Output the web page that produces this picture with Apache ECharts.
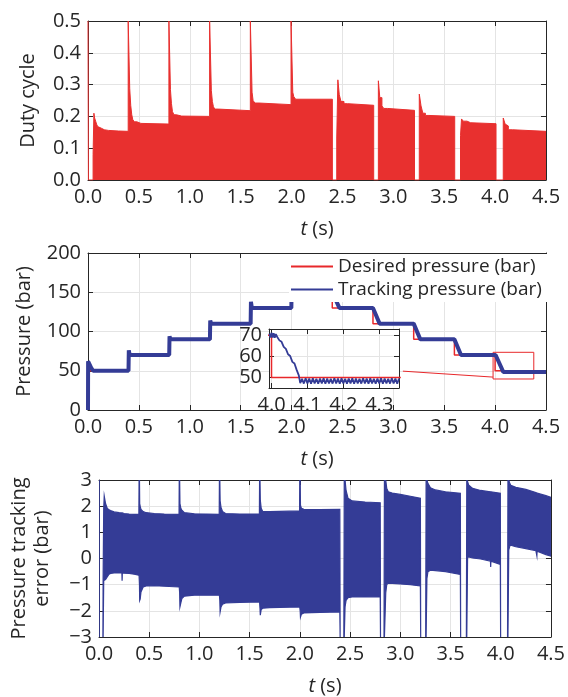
<!DOCTYPE html>
<html><head><meta charset="utf-8">
<script src="https://cdn.jsdelivr.net/npm/echarts@6/dist/echarts.min.js"></script>
<style>html,body{margin:0;padding:0;background:#fff}#c{width:568px;height:697px}</style>
</head><body><div id="c"></div><script>
// ---------- Duty cycle (value held from t[i] to t[i+1]) ----------
const dutyT = [0, 0.004, 0.050, 0.058, 0.065, 0.075, 0.085, 0.095, 0.11, 0.13, 0.16, 0.20, 0.30,
  0.395, 0.410, 0.420, 0.430, 0.440, 0.455, 0.48, 0.52,
  0.795, 0.810, 0.820, 0.830, 0.845, 0.87, 0.92,
  1.195, 1.212, 1.222, 1.232, 1.245, 1.28,
  1.595, 1.612, 1.622, 1.64, 1.68,
  1.995, 2.012, 2.022, 2.04,
  2.401, 2.444, 2.455, 2.469, 2.486, 2.515, 2.55,
  2.807, 2.853, 2.867, 2.888, 2.906, 2.942,
  3.208, 3.255, 3.272, 3.29, 3.315, 3.35,
  3.603, 3.66, 3.67, 3.688, 3.724, 3.76,
  4.009, 4.08, 4.098, 4.115, 4.13, 4.17, 4.5];
const dutyV = [0.5, 0, 0.08, 0.21, 0.195, 0.185, 0.175, 0.168, 0.163, 0.158, 0.156, 0.154, 0.153,
  0.5, 0.287, 0.234, 0.205, 0.19, 0.183, 0.178, 0.176,
  0.5, 0.284, 0.24, 0.215, 0.205, 0.201, 0.2,
  0.5, 0.281, 0.247, 0.231, 0.223, 0.218,
  0.5, 0.276, 0.25, 0.242, 0.237,
  0.5, 0.276, 0.262, 0.254,
  0, 0.132, 0.315, 0.268, 0.247, 0.24, 0.235,
  0, 0.312, 0.259, 0.233, 0.225, 0.219,
  0, 0.27, 0.233, 0.21, 0.203, 0.2,
  0, 0.14, 0.192, 0.185, 0.18, 0.177,
  0, 0.195, 0.176, 0.17, 0.158, 0.153, 0.153];

// ---------- Pressure ----------
const desT = [0, 0.4, 0.8, 1.2, 1.6, 2.0, 2.4, 2.8, 3.2, 3.6, 4.0, 4.5];
const desV = [50, 70, 90, 110, 130, 150, 130, 110, 90, 70, 50, 50];
const trkT = [0, 0.001, 0.01, 0.03, 0.05, 0.398, 0.401, 0.41, 0.798, 0.801, 0.81, 1.198, 1.201, 1.21,
  1.598, 1.601, 1.61, 1.998, 2.001, 2.01, 2.4, 2.47, 2.8, 2.865, 3.2, 3.265, 3.6, 3.665, 4.005, 4.08, 4.5];
const trkV = [0, 62, 60, 54, 50, 50, 76, 70, 70, 94, 90, 90, 114, 110, 110, 138, 130, 130, 158, 150,
  150, 130, 130, 110, 110, 90, 90, 70, 70, 48.5, 48.5];
// inset (zoom of 4.0 - 4.35 s)
const insDesT = [3.99, 4.0, 4.36];
const insDesV = [70, 50, 50];
const insT = [3.994,3.997,4.000,4.003,4.006,4.009,4.012,4.016,4.022,4.028,4.034,4.040,4.046,4.052,4.058,4.064,4.070,4.076,4.080,
  4.085,4.090,4.095,4.100,4.105,4.110,4.115,4.120,4.125,4.130,4.135,4.140,4.145,4.150,4.155,4.160,4.165,4.170,4.175,4.180,
  4.185,4.190,4.195,4.200,4.205,4.210,4.215,4.220,4.225,4.230,4.235,4.240,4.245,4.250,4.255,4.260,4.265,4.270,4.275,4.280,
  4.285,4.290,4.295,4.300,4.305,4.310,4.315,4.320,4.325,4.330,4.335,4.340,4.345,4.350,4.355];
const insV = [70.8,68.9,71.2,69.0,71.0,68.8,70.6,69.2,67.6,66.9,64.5,63.6,61.0,60.2,57.4,56.6,53.6,51.0,47.3,
  49.4,47.1,49.6,47.2,49.5,47.0,49.6,47.2,49.4,47.1,49.5,47.2,49.6,47.0,49.5,47.2,49.4,47.1,49.6,47.2,
  49.5,47.0,49.6,47.2,49.4,47.1,49.5,47.2,49.6,47.0,49.5,47.2,49.4,47.1,49.6,47.2,49.5,47.0,49.6,47.2,
  49.4,47.1,49.5,47.2,49.6,47.0,49.5,47.2,49.4,47.1,49.6,47.2,49.5,47.0,49.5];
const zoomBox = [[3.98, 39.5], [4.38, 73.5]];
const zoomLink = [[3.094, 49.5], [3.98, 41.9]];

// ---------- Tracking error envelope (upper / lower), null separates segments ----------
const errT = [0, 0.002, null,
  0.039, 0.041, 0.047, 0.052, 0.065, 0.082, 0.10, 0.115, 0.15, 0.2, 0.228, 0.23, 0.232, 0.25, 0.3, 0.35, 0.395,
  0.397, 0.399, 0.403, 0.405, 0.41, 0.418, 0.44, 0.47, 0.55, 0.65, 0.795,
  0.797, 0.799, 0.803, 0.806, 0.815, 0.825, 0.85, 0.95, 1.195,
  1.197, 1.199, 1.203, 1.206, 1.215, 1.23, 1.26, 1.4, 1.595,
  1.597, 1.599, 1.603, 1.606, 1.615, 1.63, 1.7, 1.995,
  1.997, 1.999, 2.003, 2.006, 2.015, 2.04, 2.2, 2.398, 2.401, null,
  2.438, 2.442, 2.45, 2.46, 2.48, 2.52, 2.65, 2.80, 2.803, null,
  2.838, 2.842, 2.855, 2.865, 2.88, 2.92, 3.0, 3.1, 3.2, 3.203, null,
  3.253, 3.257, 3.265, 3.275, 3.3, 3.35, 3.45, 3.598, 3.601, null,
  3.658, 3.662, 3.67, 3.68, 3.72, 3.8, 3.898, 3.9, 3.902, 3.996, 3.999, null,
  4.068, 4.072, 4.08, 4.09, 4.10, 4.15, 4.25, 4.35, 4.36, 4.362, 4.45, 4.5];
const errUp = [3, 3, null,
  -3, -0.8, 1.9, 2.39, 2.1, 1.92, 1.86, 1.83, 1.78, 1.75, 1.74, 1.74, 1.74, 1.72, 1.70, 1.69, 1.69,
  1.69, 3, 3, 2.1, 2.0, 1.88, 1.79, 1.75, 1.72, 1.70, 1.69,
  1.69, 3, 3, 2.1, 1.92, 1.85, 1.75, 1.71, 1.69,
  1.69, 3, 3, 2.2, 1.95, 1.8, 1.72, 1.70, 1.70,
  1.72, 3, 3, 2.23, 1.92, 1.8, 1.79, 1.82,
  1.83, 3, 3, 2.04, 1.92, 1.88, 1.87, 1.88, -3, null,
  -3, 3, 3, 2.6, 2.3, 2.2, 2.16, 2.13, -3, null,
  -3, 3, 3, 2.68, 2.55, 2.5, 2.45, 2.38, 2.3, -3, null,
  -3, 3, 3, 2.87, 2.7, 2.62, 2.55, 2.49, -3, null,
  -3, 3, 2.94, 2.81, 2.68, 2.6, 2.55, 2.55, 2.55, 2.49, -3, null,
  -3, 3, 3, 2.87, 2.8, 2.72, 2.64, 2.52, 2.51, 2.5, 2.40, 2.34];
const errLo = [-3, -3, null,
  -3, -3, -0.85, -0.83, -0.8, -0.7, -0.6, -0.57, -0.55, -0.55, -0.55, -0.85, -0.55, -0.56, -0.57, -0.6, -0.64,
  -0.64, -0.64, -1.0, -1.6, -1.55, -1.28, -1.09, -1.05, -1.04, -1.06, -1.09,
  -1.09, -1.09, -1.3, -1.85, -1.7, -1.53, -1.44, -1.40, -1.40,
  -1.40, -1.4, -1.6, -2.04, -1.85, -1.75, -1.7, -1.68, -1.66,
  -1.66, -1.66, -1.9, -2.17, -1.95, -1.9, -1.88, -1.85,
  -1.85, -1.85, -2.0, -2.24, -2.13, -2.08, -2.06, -2.04, -3, null,
  -3, -3, -1.85, -1.6, -1.5, -1.47, -1.46, -1.47, -3, null,
  -3, -3, -1.32, -1.0, -0.94, -0.95, -0.97, -1.0, -1.05, -3, null,
  -3, -3, -0.77, -0.51, -0.45, -0.46, -0.5, -0.61, -3, null,
  -3, -3, 0.04, 0.06, 0.02, -0.02, -0.1, -0.32, -0.1, -0.23, -3, null,
  -3, -3, 0.32, 0.47, 0.51, 0.45, 0.38, 0.3, 0.1, 0.28, 0.15, 0.09];

// ---------- styling ----------
const FONT = 'Open Sans';
const INK = '#262626';
const GRIDC = '#e4e4e4';
const RED = '#e8302f';
const RED2 = '#e8282b';
const BLUE = '#343c96';

const pairs = (a, b) => a.map((v, i) => [v, b[i]]);

const grids = [
  {left: 88, top: 21, width: 458, height: 159},
  {left: 88, top: 253, width: 458, height: 157},
  {left: 97, top: 480, width: 457, height: 157},
  {left: 269, top: 329, width: 130, height: 59, show: true, backgroundColor: '#fff', borderWidth: 0, z: 20}
];

const tName = {name: '{i|t} (s)', nameLocation: 'middle', nameGap: 39,
  nameTextStyle: {fontFamily: FONT, fontSize: 20, color: INK, rich: {i: {fontFamily: FONT, fontStyle: 'italic', fontSize: 20, color: INK}}}};

function xPair(g, min, max, interval, extra, z) {
  const base = {type: 'value', gridIndex: g, min, max, z: z || 0,
    axisLine: {show: true, onZero: false, lineStyle: {color: INK, width: 1}},
    axisTick: {show: true, inside: true, length: 5, lineStyle: {color: INK}}};
  if (interval) base.interval = interval;
  const bottom = Object.assign({}, base, {position: 'bottom',
    axisLabel: {fontFamily: FONT, fontSize: 20, color: INK, margin: 7, formatter: v => v.toFixed(1), showMinLabel: extra ? false : true, showMaxLabel: extra ? false : true},
    splitLine: {show: true, lineStyle: {color: GRIDC, width: 1}}}, extra || {});
  const top = Object.assign({}, base, {position: 'top', axisLabel: {show: false}, splitLine: {show: false}}, extra ? {splitNumber: extra.splitNumber} : {});
  return [bottom, top];
}
function yPair(g, min, max, interval, fmt, nameOpt, extra, z) {
  const base = {type: 'value', gridIndex: g, min, max, z: z || 0,
    axisLine: {show: true, onZero: false, lineStyle: {color: INK, width: 1}},
    axisTick: {show: true, inside: true, length: 5, lineStyle: {color: INK}}};
  if (interval) base.interval = interval;
  const left = Object.assign({}, base, {position: 'left',
    axisLabel: {fontFamily: FONT, fontSize: 20, color: INK, margin: 7, formatter: fmt, showMinLabel: extra ? false : true, showMaxLabel: extra ? false : true},
    splitLine: {show: true, lineStyle: {color: GRIDC, width: 1}}}, nameOpt || {}, extra || {});
  const right = Object.assign({}, base, {position: 'right', axisLabel: {show: false}, splitLine: {show: false}}, extra ? {splitNumber: extra.splitNumber} : {});
  return [left, right];
}
const yName = (txt, gap) => ({name: txt, nameLocation: 'middle', nameGap: gap,
  nameTextStyle: {fontFamily: FONT, fontSize: 20, color: INK, lineHeight: 23}});

const xAxis = [
  ...xPair(0, 0, 4.5, 0.5).map((a, i) => i === 0 ? Object.assign(a, tName) : a),
  ...xPair(1, 0, 4.5, 0.5).map((a, i) => i === 0 ? Object.assign(a, tName) : a),
  ...xPair(2, 0, 4.5, 0.5).map((a, i) => i === 0 ? Object.assign(a, tName) : a),
  ...xPair(3, 3.993, 4.355, null, {splitNumber: 4}, 21)
];
const yAxis = [
  ...yPair(0, 0, 0.5, 0.1, v => v.toFixed(1), yName('Duty cycle', 48)),
  ...yPair(1, 0, 200, 50, v => String(v), yName('Pressure (bar)', 48)),
  ...yPair(2, -3, 3, 1, v => v < 0 ? '\u2212' + Math.abs(v) : String(v), yName('Pressure tracking\nerror (bar)', 45)),
  ...yPair(3, 45, 73, null, v => String(v), null, {splitNumber: 3}, 21)
];

function bandSeries(xi, yi, T, U, L, color) {
  const segs = []; let cur = null;
  for (let i = 0; i < T.length; i++) {
    if (T[i] === null) { cur = null; continue; }
    if (!cur) { cur = []; segs.push(cur); }
    cur.push([T[i], U[i], L[i]]);
  }
  return {type: 'custom', xAxisIndex: xi, yAxisIndex: yi, clip: true, silent: true,
    data: segs.map(s => [s[0][0], s[0][1]]),
    encode: {x: 0, y: 1},
    renderItem(params, api) {
      const s = segs[params.dataIndex];
      const pts = s.map(p => api.coord([p[0], p[1]]))
        .concat(s.slice().reverse().map(p => api.coord([p[0], p[2]])));
      return {type: 'polygon', shape: {points: pts}, style: {fill: color, stroke: color, lineWidth: 1.2}};
    }};
}

const series = [
  {type: 'line', name: 'duty', xAxisIndex: 0, yAxisIndex: 0, step: 'end', symbol: 'none', silent: true,
    data: pairs(dutyT, dutyV), lineStyle: {color: RED, width: 1}, areaStyle: {color: RED, opacity: 1}, itemStyle: {color: RED}},
  {type: 'line', name: 'Desired pressure (bar)', xAxisIndex: 2, yAxisIndex: 2, step: 'end', symbol: 'none', silent: true,
    data: pairs(desT, desV), lineStyle: {color: RED2, width: 1.5}, itemStyle: {color: RED2},
    markArea: {silent: true, itemStyle: {color: 'rgba(0,0,0,0)', borderColor: RED2, borderWidth: 1},
      data: [[{coord: zoomBox[0]}, {coord: zoomBox[1]}]]},
    markLine: {silent: true, symbol: 'none', label: {show: false}, lineStyle: {color: RED2, width: 1, type: 'solid'},
      data: [[{coord: zoomLink[0]}, {coord: zoomLink[1]}]]}},
  {type: 'line', name: 'Tracking pressure (bar)', xAxisIndex: 2, yAxisIndex: 2, symbol: 'none', silent: true,
    data: pairs(trkT, trkV), lineStyle: {color: BLUE, width: 4}, itemStyle: {color: BLUE}},
  bandSeries(4, 4, errT, errUp, errLo, BLUE),
  {type: 'line', name: 'insDes', xAxisIndex: 6, yAxisIndex: 6, step: 'end', symbol: 'none', silent: true, z: 22,
    data: pairs(insDesT, insDesV), lineStyle: {color: RED2, width: 1.5}, itemStyle: {color: RED2}},
  {type: 'line', name: 'insTrk', xAxisIndex: 6, yAxisIndex: 6, symbol: 'none', silent: true, z: 22,
    data: pairs(insT, insV), lineStyle: {color: BLUE, width: 1.8}, itemStyle: {color: BLUE}}
];

const LINE_ICON = 'path://M0,0H42V2H0Z';
const chart = echarts.init(document.getElementById('c'), null, {renderer: 'canvas'});
chart.setOption({
  animation: false,
  backgroundColor: '#fff',
  grid: grids,
  xAxis, yAxis, series,
  legend: {data: [{name: 'Desired pressure (bar)', icon: LINE_ICON}, {name: 'Tracking pressure (bar)', icon: LINE_ICON}],
    orient: 'vertical', left: 289, top: 254, symbolKeepAspect: true,
    itemWidth: 42, itemHeight: 18, itemGap: 4, backgroundColor: '#fff', padding: [3, 8, 3, 2],
    selectedMode: false, z: 5,
    textStyle: {fontFamily: FONT, fontSize: 19, color: INK}}
});
</script></body></html>
